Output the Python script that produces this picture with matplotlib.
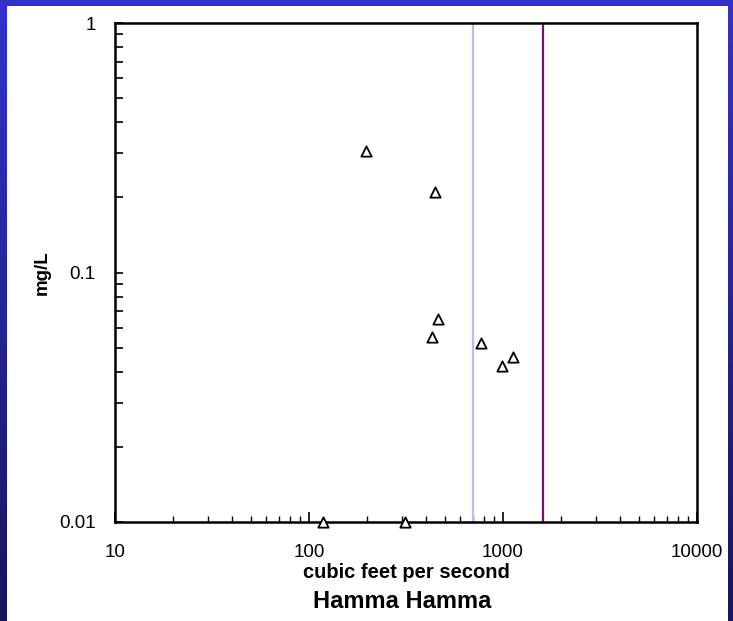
import numpy as np
import matplotlib.pyplot as plt
from matplotlib.patches import Rectangle
from matplotlib.ticker import LogLocator, NullFormatter, FixedLocator, FixedFormatter

plt.rcParams['font.family'] = ['Liberation Sans', 'DejaVu Sans']

# flow (cfs) and concentration (mg/L)
flow = [196, 448, 464, 432, 767, 1122, 989, 118, 313]
conc = [0.308, 0.211, 0.065, 0.055, 0.052, 0.046, 0.042, 0.01, 0.01]

# reference flows drawn as vertical lines
ref_flows = [700, 1600]
ref_colors = ['#c8b4f0', '#800a78']

xticks = [10, 100, 1000, 10000]
yticks = [0.01, 0.1, 1]

W, H = 733, 621
fig = plt.figure(figsize=(W / 100, H / 100), dpi=100)

# blue frame with a dark gradient toward the bottom
bg = fig.add_axes([0, 0, 1, 1])
bg.set_axis_off()
top = np.array([51, 51, 204]) / 255
bot = np.array([22, 22, 90]) / 255
t = np.linspace(0, 1, 256)[:, None]
grad = (top * (1 - t) + bot * t)[:, None, :]
bg.imshow(grad, aspect='auto', extent=[0, 1, 0, 1])
bg.set_xlim(0, 1)
bg.set_ylim(0, 1)
bg.add_patch(Rectangle((7 / W, 0), (728 - 7) / W, (H - 6) / H,
                       facecolor='white', edgecolor='none'))

ax = fig.add_axes([115 / W, (H - 522) / H, 582 / W, 499 / H])
ax.set_xscale('log')
ax.set_yscale('log')
ax.set_xlim(10, 10000)
ax.set_ylim(0.01, 1)

for xv, c in zip(ref_flows, ref_colors):
    ax.axvline(xv, color=c, lw=1.6, zorder=2)

ax.scatter(flow, conc, marker='^', s=55, facecolors='white',
           edgecolors='black', linewidths=1.3, zorder=3, clip_on=False)

ax.xaxis.set_major_locator(FixedLocator(xticks))
ax.xaxis.set_major_formatter(FixedFormatter([str(v) for v in xticks]))
ax.yaxis.set_major_locator(FixedLocator(yticks))
ax.yaxis.set_major_formatter(FixedFormatter(['0.01', '0.1', '1']))
ax.xaxis.set_minor_locator(LogLocator(base=10, subs=np.arange(2, 10)))
ax.yaxis.set_minor_locator(LogLocator(base=10, subs=np.arange(2, 10)))
ax.xaxis.set_minor_formatter(NullFormatter())
ax.yaxis.set_minor_formatter(NullFormatter())

ax.tick_params(which='both', direction='in', labelsize=13.5, color='black')
ax.tick_params(axis='x', which='major', length=7, width=1.2, pad=16)
ax.tick_params(axis='x', which='minor', length=4, width=1)
ax.tick_params(axis='y', which='both', length=6, width=1.2, pad=14)
for s in ax.spines.values():
    s.set_linewidth(1.8)

ax.set_xlabel('cubic feet per second', fontsize=14.5, fontweight='bold', labelpad=1)
ax.set_ylabel('mg/L', fontsize=13.5, fontweight='bold', labelpad=6)
fig.text(0.549, (H - 602) / H, 'Hamma Hamma', fontsize=17, fontweight='bold',
         ha='center', va='center')

fig.savefig('out.png', dpi=100)
